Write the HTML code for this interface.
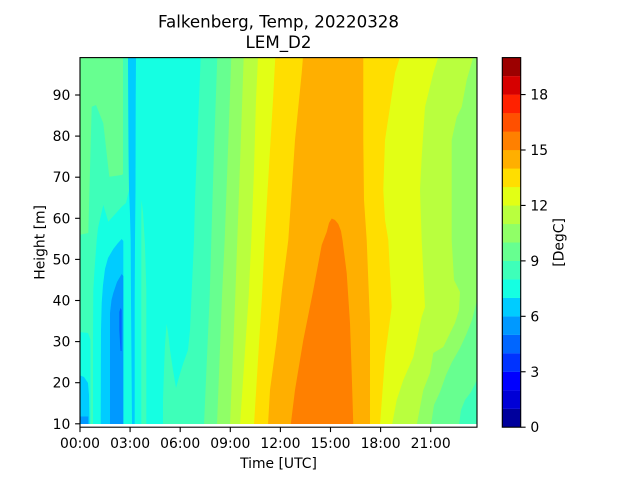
<!DOCTYPE html>
<html><head><meta charset="utf-8"><style>
html,body{margin:0;padding:0;background:#fff;}
svg{display:block;}
text{font-family:"DejaVu Sans","Liberation Sans",sans-serif;fill:#000;}
</style></head><body>
<svg width="640" height="480" viewBox="0 0 640 480" xmlns="http://www.w3.org/2000/svg">
<defs><clipPath id="pc"><rect x="80" y="57.6" width="397" height="366.4"/></clipPath></defs>
<rect width="640" height="480" fill="#fff"/>
<g clip-path="url(#pc)" shape-rendering="geometricPrecision">
<rect x="80" y="57.6" width="397" height="366.4" fill="#15ffe2"/>
<path fill="#3effb9" d="M200.7,57 L199,100 L197,150 L195,200 L194,240 L191.5,296 L190,330 L188,350 L183,364 L179,377 L176,388 L173,370 L170,350 L168,332 L166.5,324 L165,345 L164,370 L163,400 L163,425 L480,425 L480,57 Z"/>
<path fill="#3effb9" d="M141.5,200 L143,212 L145,245 L146.3,290 L146.3,425 L141.3,425 L141.3,215 Z"/>
<path fill="#67ff90" d="M217.3,57 L214,150 L211.3,240 L209.7,296 L204,425 L480,425 L480,57 Z"/>
<path fill="#90ff67" d="M231.3,57 L228,150 L224.7,240 L222,296 L217,425 L480,425 L480,57 Z"/>
<path fill="#b9ff3e" d="M243.7,57 L240.5,150 L237.3,240 L235.3,296 L230,425 L480,425 L480,57 Z"/>
<path fill="#e2ff15" d="M258,57 L256,100 L254,170 L251.3,240 L248.7,296 L240,425 L480,425 L480,57 Z"/>
<path fill="#ffde00" d="M275.3,57 L273,100 L270,150 L267,200 L264.7,240 L262,296 L258,360 L254,425 L480,425 L480,57 Z"/>
<path fill="#ffaf00" d="M303,57 L301.7,73 L295,140 L291.7,190 L288.3,240 L282,290 L276.7,340 L270,390 L268,425 L480,425 L480,57 Z"/>
<path fill="#ff8000" d="M331.7,218.5 L335,220 L338.3,224 L341,231 L342.5,240 L346.7,273 L350,323 L351.7,373 L353.3,425 L290.7,425 L295,390 L303.3,340 L313.3,290 L321.7,245 L326.7,232 L329,223 Z"/>
<path fill="#ffde00" d="M363.3,57 L363.3,140 L364,200 L366.7,240 L370,323 L370,425 L480,425 L480,57 Z"/>
<path fill="#e2ff15" d="M400,57 L395,73 L390,107 L385,140 L383.3,190 L385,220 L388.3,240 L391.7,307 L385,357 L380,425 L480,425 L480,57 Z"/>
<path fill="#b9ff3e" d="M438.3,57 L433.3,73 L425,107 L421.7,157 L420,190 L421.7,240 L425,307 L421.7,317 L413.3,357 L403.3,380 L396.7,400 L392,425 L480,425 L480,57 Z"/>
<path fill="#90ff67" d="M473.3,57 L466.7,80 L461.7,107 L456.7,117 L451.7,140 L451.7,240 L454,280 L460,292 L459,310 L455,323 L446.7,340 L443.3,347 L433.3,353 L430,373 L423.3,390 L416.7,425 L480,425 L480,57 Z"/>
<path fill="#67ff90" d="M480,300 L477,300 L472,320 L466,335 L460,348 L452,362 L446,375 L440,392 L434,405 L431,425 L480,425 Z"/>
<path fill="#3effb9" d="M480,380 L477,380 L471,392 L465,400 L461,410 L459,425 L480,425 Z"/>
<path fill="#3effb9" d="M79,57 L128,57 L128.5,150 L129,190 L126,203 L121.7,206.7 L108.3,221.7 L103.3,205 L98,228 L96.7,240 L94.5,270 L93.3,290 L93,340 L93,425 L79,425 Z"/>
<path fill="#67ff90" d="M79,57 L123,57 L123,174 L121.7,175 L109.3,176.7 L103.3,123.3 L96,105 L91.7,106.7 L90,170 L88.3,233 L79,235 Z"/>
<path fill="#15ffe2" d="M79,332 L88,333 L90.5,340 L90.5,425 L79,425 Z"/>
<path fill="#00ccff" d="M79,375 L84,377 L88,383 L89,395 L89.5,425 L79,425 Z"/>
<path fill="#0099ff" d="M79,416.5 L88.3,416.5 L88.3,425 L79,425 Z"/>
<path fill="#00ccff" d="M121.7,239 L123.3,241 L123.3,425 L100.7,425 L101,330 L101.7,303 L103,285 L105,269 L108,258 L113.3,249 L118,243 Z"/>
<path fill="#0099ff" d="M121.7,274 L123.3,276 L123.3,425 L110,425 L110,313 L111.5,300 L113.3,293 L117,282 Z"/>
<path fill="#0066ff" d="M120.5,308 L121.7,310 L121.7,351 L120.5,351 L119.3,330 L119.3,312 Z"/>
<path fill="#00ccff" d="M128,57 L136,57 L135.7,100 L135.5,190 L135,240 L134.7,300 L134.7,425 L132,425 L131,300 L130.7,240 L130,215 L129,190 L128.5,150 Z"/>
</g>
<rect x="80" y="57.6" width="397" height="369.6" fill="none" stroke="#000" stroke-width="1.1"/>
<g stroke="#000" stroke-width="1.1">
<line x1="80" y1="427.2" x2="80" y2="432.1"/>
<line x1="130.1" y1="427.2" x2="130.1" y2="432.1"/>
<line x1="180.2" y1="427.2" x2="180.2" y2="432.1"/>
<line x1="230.3" y1="427.2" x2="230.3" y2="432.1"/>
<line x1="280.4" y1="427.2" x2="280.4" y2="432.1"/>
<line x1="330.5" y1="427.2" x2="330.5" y2="432.1"/>
<line x1="380.6" y1="427.2" x2="380.6" y2="432.1"/>
<line x1="430.7" y1="427.2" x2="430.7" y2="432.1"/>
<line x1="75.1" y1="423.8" x2="80" y2="423.8"/>
<line x1="75.1" y1="382.7" x2="80" y2="382.7"/>
<line x1="75.1" y1="341.6" x2="80" y2="341.6"/>
<line x1="75.1" y1="300.5" x2="80" y2="300.5"/>
<line x1="75.1" y1="259.4" x2="80" y2="259.4"/>
<line x1="75.1" y1="218.3" x2="80" y2="218.3"/>
<line x1="75.1" y1="177.2" x2="80" y2="177.2"/>
<line x1="75.1" y1="136.1" x2="80" y2="136.1"/>
<line x1="75.1" y1="95" x2="80" y2="95"/>
</g>
<g font-size="13.9" text-anchor="middle">
<text x="80" y="448">00:00</text>
<text x="130.1" y="448">03:00</text>
<text x="180.2" y="448">06:00</text>
<text x="230.3" y="448">09:00</text>
<text x="280.4" y="448">12:00</text>
<text x="330.5" y="448">15:00</text>
<text x="380.6" y="448">18:00</text>
<text x="430.7" y="448">21:00</text>
</g>
<g font-size="13.9" text-anchor="end">
<text x="70.3" y="428.8">10</text>
<text x="70.3" y="387.7">20</text>
<text x="70.3" y="346.6">30</text>
<text x="70.3" y="305.5">40</text>
<text x="70.3" y="264.4">50</text>
<text x="70.3" y="223.3">60</text>
<text x="70.3" y="182.2">70</text>
<text x="70.3" y="141.1">80</text>
<text x="70.3" y="100">90</text>
</g>
<text x="278.5" y="468" font-size="13.9" text-anchor="middle">Time [UTC]</text>
<text transform="translate(44.5,242.4) rotate(-90)" font-size="13.9" text-anchor="middle">Height [m]</text>
<text x="278.5" y="27.5" font-size="16.67" text-anchor="middle">Falkenberg, Temp, 20220328</text>
<text x="278.5" y="48" font-size="16.67" text-anchor="middle">LEM_D2</text>
<g>
<rect x="502.3" y="408.72" width="18.4" height="18.6" fill="#00009c"/>
<rect x="502.3" y="390.24" width="18.4" height="18.6" fill="#0000d6"/>
<rect x="502.3" y="371.76" width="18.4" height="18.6" fill="#0000ff"/>
<rect x="502.3" y="353.28" width="18.4" height="18.6" fill="#0033ff"/>
<rect x="502.3" y="334.8" width="18.4" height="18.6" fill="#0066ff"/>
<rect x="502.3" y="316.32" width="18.4" height="18.6" fill="#0099ff"/>
<rect x="502.3" y="297.84" width="18.4" height="18.6" fill="#00ccff"/>
<rect x="502.3" y="279.36" width="18.4" height="18.6" fill="#15ffe2"/>
<rect x="502.3" y="260.88" width="18.4" height="18.6" fill="#3effb9"/>
<rect x="502.3" y="242.4" width="18.4" height="18.6" fill="#67ff90"/>
<rect x="502.3" y="223.92" width="18.4" height="18.6" fill="#90ff67"/>
<rect x="502.3" y="205.44" width="18.4" height="18.6" fill="#b9ff3e"/>
<rect x="502.3" y="186.96" width="18.4" height="18.6" fill="#e2ff15"/>
<rect x="502.3" y="168.48" width="18.4" height="18.6" fill="#ffde00"/>
<rect x="502.3" y="150" width="18.4" height="18.6" fill="#ffaf00"/>
<rect x="502.3" y="131.52" width="18.4" height="18.6" fill="#ff8000"/>
<rect x="502.3" y="113.04" width="18.4" height="18.6" fill="#ff5000"/>
<rect x="502.3" y="94.56" width="18.4" height="18.6" fill="#ff2100"/>
<rect x="502.3" y="76.08" width="18.4" height="18.6" fill="#d60000"/>
<rect x="502.3" y="57.6" width="18.4" height="18.48" fill="#9c0000"/>
</g>
<rect x="502.3" y="57.6" width="18.4" height="369.6" fill="none" stroke="#000" stroke-width="1.1"/>
<g stroke="#000" stroke-width="1.1">
<line x1="520.7" y1="427.2" x2="525.6" y2="427.2"/>
<line x1="520.7" y1="371.76" x2="525.6" y2="371.76"/>
<line x1="520.7" y1="316.32" x2="525.6" y2="316.32"/>
<line x1="520.7" y1="260.88" x2="525.6" y2="260.88"/>
<line x1="520.7" y1="205.44" x2="525.6" y2="205.44"/>
<line x1="520.7" y1="150" x2="525.6" y2="150"/>
<line x1="520.7" y1="94.56" x2="525.6" y2="94.56"/>
</g>
<g font-size="13.9">
<text x="530.4" y="432.2">0</text>
<text x="530.4" y="376.8">3</text>
<text x="530.4" y="321.3">6</text>
<text x="530.4" y="265.9">9</text>
<text x="530.4" y="210.4">12</text>
<text x="530.4" y="155">15</text>
<text x="530.4" y="99.6">18</text>
</g>
<text transform="translate(563.5,242.4) rotate(-90)" font-size="13.9" text-anchor="middle">[DegC]</text>
</svg>
</body></html>
